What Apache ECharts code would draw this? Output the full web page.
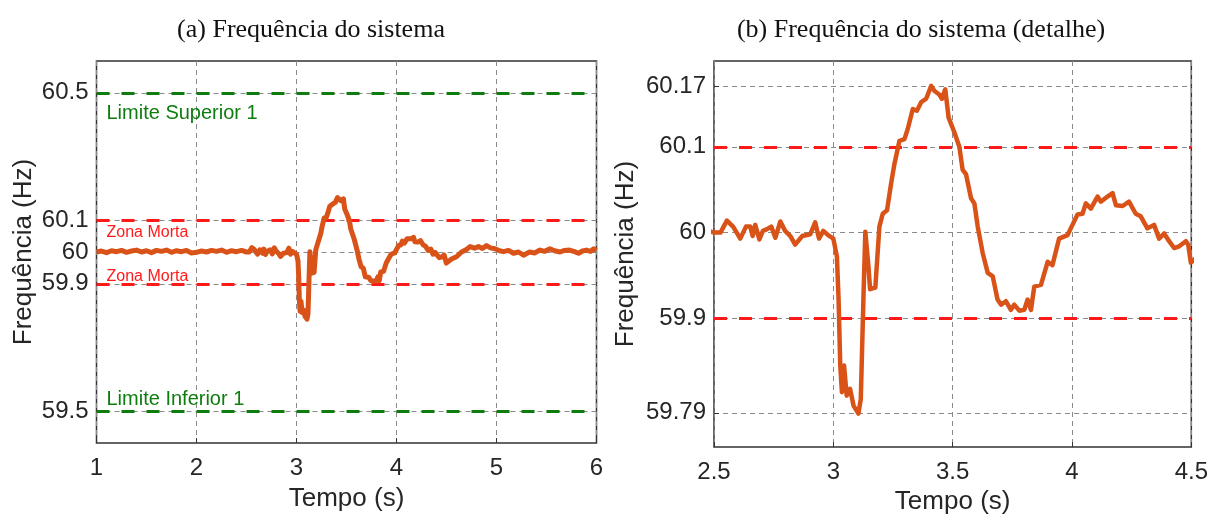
<!DOCTYPE html>
<html>
<head>
<meta charset="utf-8">
<script src="https://cdn.jsdelivr.net/npm/echarts@6/dist/echarts.min.js"></script>
<style>
html,body{margin:0;padding:0;background:#fff;}
#chart{width:1211px;height:520px;}
</style>
</head>
<body>
<div id="chart"></div>
<script>
// ---- data ----
const titleA = '(a) Frequência do sistema';
const titleB = '(b) Frequência do sistema (detalhe)';
const xName = 'Tempo (s)';
const yName = 'Frequência (Hz)';

const timeS = [
  1.00,1.05,1.10,1.15,1.20,1.25,1.30,1.35,1.40,1.45,1.50,1.55,1.60,1.65,1.70,1.75,1.80,1.85,1.90,1.95,
  2.00,2.05,2.10,2.15,2.20,2.25,2.30,2.35,2.40,2.45,
  2.500,2.527,2.554,2.580,2.610,2.634,2.652,2.662,2.673,2.690,2.705,2.722,2.740,2.757,2.778,2.798,2.820,2.840,2.870,2.903,
  2.924,2.940,2.958,2.978,3.000,3.015,3.022,3.029,3.036,3.045,3.056,3.070,3.085,3.105,3.115,3.126,3.134,3.147,3.154,3.176,
  3.193,3.207,3.225,3.242,3.256,3.277,3.298,3.312,3.333,3.350,3.368,3.389,3.410,3.424,3.444,3.455,3.469,3.483,3.507,3.528,
  3.542,3.556,3.577,3.591,3.605,3.626,3.647,3.668,3.688,3.703,3.723,3.744,3.758,3.779,3.800,3.814,3.828,3.842,3.870,3.898,
  3.918,3.946,3.981,4.002,4.023,4.044,4.058,4.079,4.107,4.121,4.149,4.170,4.184,4.212,4.239,4.267,4.288,4.316,4.344,4.365,
  4.386,4.407,4.428,4.449,4.477,4.487,4.498,
  4.55,4.60,4.65,4.70,4.735,4.78,4.82,4.86,4.90,4.94,4.985,5.03,5.07,5.12,5.17,5.22,5.27,5.33,5.38,5.435,5.48,5.535,5.58,5.635,5.68,5.73,5.78,5.82,5.86,5.90,5.94,5.97,6.00
];
const freqHz = [
  60.000,60.003,59.998,60.004,60.001,60.005,59.999,60.003,60.006,60.000,60.004,59.998,60.005,60.002,60.006,59.999,60.004,60.001,60.005,59.997,
  59.999,60.003,60.000,60.005,60.002,60.006,59.999,60.004,60.001,60.005,
  60.000,60.000,60.014,60.007,59.993,60.007,60.007,59.996,60.009,59.992,60.002,60.004,60.007,59.994,60.013,60.002,59.996,59.986,59.996,59.998,
  60.012,59.993,60.002,59.997,59.993,59.972,59.922,59.845,59.814,59.845,59.810,59.818,59.798,59.789,59.806,59.922,60.001,59.961,59.934,59.936,
  60.007,60.022,60.026,60.057,60.080,60.107,60.109,60.121,60.144,60.142,60.152,60.156,60.171,60.165,60.161,60.156,60.167,60.134,60.117,60.100,
  60.073,60.068,60.040,60.034,60.007,59.976,59.953,59.949,59.922,59.916,59.920,59.910,59.916,59.909,59.910,59.922,59.910,59.937,59.939,59.966,
  59.962,59.993,59.997,60.009,60.021,60.022,60.034,60.028,60.042,60.036,60.042,60.046,60.032,60.031,60.036,60.022,60.019,60.005,60.009,59.993,
  59.999,59.990,59.982,59.984,59.990,59.986,59.965,
  59.978,59.985,60.000,60.008,60.017,60.012,60.017,60.011,60.020,60.013,60.010,60.004,60.001,60.005,59.996,60.000,59.990,60.000,59.997,60.006,60.002,60.010,60.004,60.000,60.005,60.006,60.001,59.996,60.003,60.006,60.002,60.010,60.005
];

const yTicksA = [59.5, 59.9, 60, 60.1, 60.5];
const yTicksB = [59.79, 59.9, 60, 60.1, 60.17];
const limitsA = [
  {value: 60.5, name: 'Limite Superior 1', kind: 'limit', pos: 'below'},
  {value: 60.1, name: 'Zona Morta', kind: 'dead', pos: 'below'},
  {value: 59.9, name: 'Zona Morta', kind: 'dead', pos: 'above'},
  {value: 59.5, name: 'Limite Inferior 1', kind: 'limit', pos: 'above'}
];
const limitsB = [60.1, 59.9];

// ---- chart ----
const pts = timeS.map((t, i) => [t, freqHz[i]]);
const LINE = '#D95319', GREEN = '#0E7C0E', RED = '#FF1A1A', GRID = '#8A8A8A', TXT = '#262626';
const sans = 'Liberation Sans', serif = 'Liberation Serif';
const labelDist = {
  'limit-below': [10, 11], 'dead-below': [10, 4],
  'dead-above': [10, -1], 'limit-above': [10, 2]
};

function xAx(idx, min, max, interval, gap) {
  return {
    gridIndex: idx, type: 'value', min, max, interval,
    name: xName, nameLocation: 'middle', nameGap: gap,
    nameTextStyle: {fontFamily: sans, fontSize: 26, color: TXT},
    axisLine: {show: false},
    axisTick: {show: true, inside: true, length: 5, lineStyle: {color: '#333'}},
    axisLabel: {fontFamily: sans, fontSize: 24, color: TXT, margin: 13},
    splitLine: {show: true, lineStyle: {color: GRID, type: [5, 4], width: 1}}
  };
}
function yAx(idx, min, max, ticks, gap) {
  return {
    gridIndex: idx, type: 'value', min, max,
    name: yName, nameLocation: 'middle', nameGap: gap,
    nameTextStyle: {fontFamily: sans, fontSize: 26, color: TXT},
    axisLine: {show: false},
    axisTick: {show: true, inside: true, length: 5, customValues: ticks, lineStyle: {color: '#333'}},
    axisLabel: {fontFamily: sans, fontSize: 24, color: TXT, margin: 8, customValues: ticks,
      formatter: v => String(+v.toFixed(2))},
    splitLine: {show: true, lineStyle: {color: GRID, type: [5, 4], width: 1}}
  };
}

const markA = limitsA.map(l => ({
  yAxis: l.value,
  lineStyle: {color: l.kind === 'limit' ? GREEN : RED, width: 3, type: [13, 12]},
  label: {
    show: true, formatter: l.name,
    position: l.pos === 'below' ? 'insideStartBottom' : 'insideStartTop',
    color: l.kind === 'limit' ? GREEN : RED,
    fontFamily: sans, fontSize: l.kind === 'limit' ? 20 : 16,
    distance: labelDist[l.kind + '-' + l.pos]
  }
}));
const markB = limitsB.map(v => ({
  yAxis: v,
  lineStyle: {color: RED, width: 3, type: [13, 12]},
  label: {show: false}
}));

const chart = echarts.init(document.getElementById('chart'), null, {renderer: 'canvas'});
chart.setOption({
  animation: false,
  backgroundColor: '#fff',
  title: [
    {text: titleA, left: 306, top: 12, textAlign: 'center',
      textStyle: {fontFamily: serif, fontSize: 26, fontWeight: 'normal', color: '#111'}},
    {text: titleB, left: 916, top: 12, textAlign: 'center',
      textStyle: {fontFamily: serif, fontSize: 26, fontWeight: 'normal', color: '#111'}}
  ],
  grid: [
    {left: 96.5, top: 61, width: 500, height: 382, show: true, borderColor: '#333', borderWidth: 1.5, backgroundColor: 'transparent'},
    {left: 714, top: 61, width: 479, height: 387, show: true, borderColor: '#333', borderWidth: 1.5, backgroundColor: 'transparent'}
  ],
  xAxis: [xAx(0, 1, 6, 1, 43), xAx(1, 2.5, 4.5, 0.5, 36)],
  yAxis: [yAx(0, 59.4, 60.6, yTicksA, 60), yAx(1, 59.75, 60.2, yTicksB, 75)],
  series: [
    {type: 'line', xAxisIndex: 0, yAxisIndex: 0, data: [], symbol: 'none', z: 3,
      markLine: {silent: true, symbol: 'none', animation: false, data: markA}},
    {type: 'line', xAxisIndex: 1, yAxisIndex: 1, data: [], symbol: 'none', z: 3,
      markLine: {silent: true, symbol: 'none', animation: false, data: markB}},
    {type: 'line', xAxisIndex: 0, yAxisIndex: 0, data: pts, symbol: 'none', z: 5,
      lineStyle: {color: LINE, width: 5, join: 'round'}},
    {type: 'line', xAxisIndex: 1, yAxisIndex: 1, data: pts, symbol: 'none', z: 5, clip: true,
      lineStyle: {color: LINE, width: 4.5, join: 'round'}}
  ]
});
</script>
</body>
</html>
